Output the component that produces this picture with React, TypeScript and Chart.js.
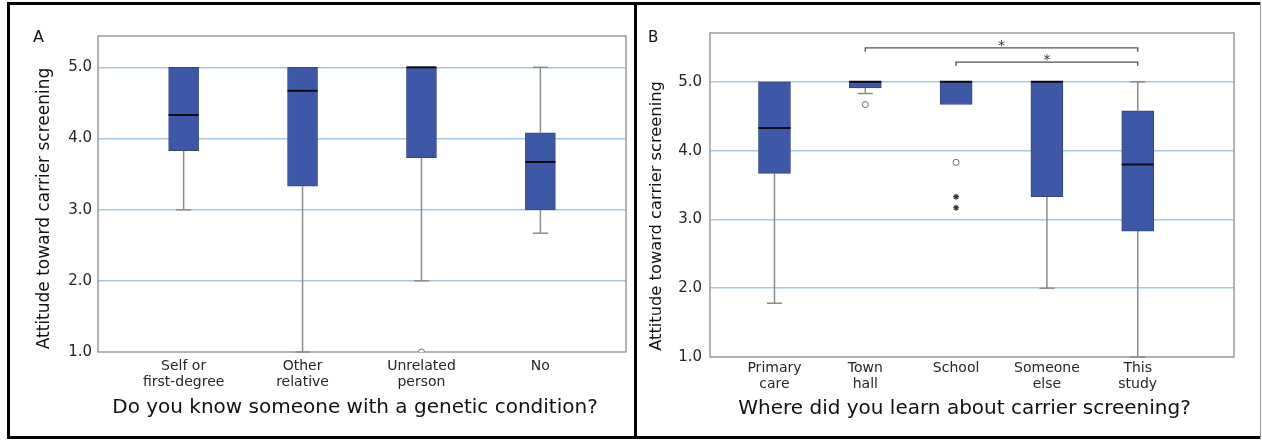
import React, { useEffect, useRef } from "react";
import { Chart, registerables } from "chart.js";

Chart.register(...registerables);

// ---------- Panel A data ----------
const categoriesA = [["Self or", "first-degree"], ["Other", "relative"], ["Unrelated", "person"], ["No"]];
const whiskerLowA = [3.0, 1.0, 2.0, 2.67];
const q1A = [3.83, 3.33, 3.73, 3.0];
const medianA = [4.33, 4.67, 5.0, 3.67];
const q3A = [5.0, 5.0, 5.0, 4.08];
const whiskerHighA = [5.0, 5.0, 5.0, 5.0];
const circleOutlierCatA = [3];
const circleOutlierValA = [1.0];
const starOutlierCatA: number[] = [];
const starOutlierValA: number[] = [];

// ---------- Panel B data ----------
const categoriesB = [["Primary", "care"], ["Town", "hall"], ["School"], ["Someone", "else"], ["This", "study"]];
const whiskerLowB = [1.78, 4.83, 4.67, 2.0, 1.0];
const q1B = [3.67, 4.91, 4.67, 3.33, 2.83];
const medianB = [4.33, 5.0, 5.0, 5.0, 3.8];
const q3B = [5.0, 5.0, 5.0, 5.0, 4.58];
const whiskerHighB = [5.0, 5.0, 5.0, 5.0, 5.0];
const circleOutlierCatB = [2, 3];
const circleOutlierValB = [4.67, 3.83];
const starOutlierCatB = [3, 3];
const starOutlierValB = [3.33, 3.17];
const bracketFromB = [2, 3];
const bracketToB = [5, 5];
const bracketLabelB = ["*", "*"];

// ---------- Shared axis ticks ----------
const yTickValues = [1, 2, 3, 4, 5];
const yTickLabels = ["1.0", "2.0", "3.0", "4.0", "5.0"];

const FONT = "'DejaVu Sans', 'Noto Sans', sans-serif";

const boxExtras = {
  id: "boxExtras",
  beforeDatasetsDraw(chart: any, _args: any, o: any) {
    const { ctx, chartArea: ca, scales } = chart;
    const x = scales.x;
    const y = scales.y;
    ctx.save();
    // plot frame
    ctx.strokeStyle = "#9a9a9a";
    ctx.lineWidth = 1.5;
    ctx.strokeRect(ca.left, ca.top, ca.right - ca.left, ca.bottom - ca.top);
    // whiskers
    ctx.strokeStyle = "#8c8c8c";
    ctx.lineWidth = 1.5;
    const half = o.capWidth / 2;
    o.q1.forEach((q1: number, i: number) => {
      const px = x.getPixelForValue(i + 1);
      const seg = (from: number, to: number) => {
        if (from === to) return;
        const a = y.getPixelForValue(from);
        const b = y.getPixelForValue(to);
        ctx.beginPath();
        ctx.moveTo(px, a);
        ctx.lineTo(px, b);
        ctx.moveTo(px - half, b);
        ctx.lineTo(px + half, b);
        ctx.stroke();
      };
      seg(q1, o.whiskerLow[i]);
      seg(o.q3[i], o.whiskerHigh[i]);
    });
    ctx.restore();
  },
  afterDatasetsDraw(chart: any, _args: any, o: any) {
    const { ctx, scales } = chart;
    const x = scales.x;
    const y = scales.y;
    ctx.save();
    // medians
    ctx.strokeStyle = "#0a0a14";
    ctx.lineWidth = 2;
    o.median.forEach((m: number, i: number) => {
      const px = x.getPixelForValue(i + 1);
      const py = y.getPixelForValue(m);
      ctx.beginPath();
      ctx.moveTo(px - o.boxWidth / 2, py);
      ctx.lineTo(px + o.boxWidth / 2, py);
      ctx.stroke();
    });
    // significance brackets
    if (o.bracketFrom) {
      o.bracketFrom.forEach((f: number, i: number) => {
        const x1 = x.getPixelForValue(f);
        const x2 = x.getPixelForValue(o.bracketTo[i]);
        const py = y.getPixelForValue(o.bracketLevels[i]);
        ctx.strokeStyle = "#505050";
        ctx.lineWidth = 1.3;
        ctx.beginPath();
        ctx.moveTo(x1, py + 4);
        ctx.lineTo(x1, py);
        ctx.lineTo(x2, py);
        ctx.lineTo(x2, py + 4);
        ctx.stroke();
        ctx.fillStyle = "#333";
        ctx.font = `14px ${FONT}`;
        ctx.textAlign = "center";
        ctx.textBaseline = "alphabetic";
        ctx.fillText(o.bracketLabel[i], (x1 + x2) / 2, py + 2);
      });
    }
    ctx.restore();
  },
  afterDraw(chart: any, _args: any, o: any) {
    const { ctx } = chart;
    ctx.save();
    ctx.fillStyle = "#111";
    // panel label
    ctx.font = `${o.panelSize}px ${FONT}`;
    ctx.textAlign = "left";
    ctx.textBaseline = "alphabetic";
    ctx.fillText(o.panel, o.panelX, o.panelY);
    // x title
    ctx.font = `${o.xTitleSize}px ${FONT}`;
    ctx.textAlign = "center";
    ctx.fillText(o.xTitle, o.xTitleX, o.xTitleY);
    // y title
    ctx.translate(o.yTitleX, o.yTitleY);
    ctx.rotate(-Math.PI / 2);
    ctx.font = `${o.yTitleSize}px ${FONT}`;
    ctx.textAlign = "center";
    ctx.textBaseline = "middle";
    ctx.fillText(o.yTitle, 0, 0);
    ctx.restore();
  },
};

function buildChart(canvas: HTMLCanvasElement, p: any) {
  const boxes = p.q1.map((v: number, i: number) => ({ x: i + 1, y: [v, p.q3[i]] }));
  const circles = p.circleCat.map((c: number, i: number) => ({ x: c, y: p.circleVal[i] }));
  const stars = p.starCat.map((c: number, i: number) => ({ x: c, y: p.starVal[i] }));
  return new Chart(canvas, {
    type: "bar",
    data: {
      datasets: [
        {
          type: "bar",
          data: boxes,
          backgroundColor: "#3e58a8",
          borderColor: "#34467e",
          borderWidth: 1,
          borderSkipped: false,
          barThickness: p.boxWidth,
        } as any,
        {
          type: "scatter",
          data: circles,
          pointStyle: "circle",
          pointRadius: 3,
          borderColor: "#6e6e6e",
          backgroundColor: "#ffffff",
          borderWidth: 1,
          clip: 0,
        } as any,
        {
          type: "scatter",
          data: stars,
          pointStyle: "star",
          pointRadius: 3,
          borderColor: "#333",
          backgroundColor: "#333",
          borderWidth: 1.2,
        } as any,
      ],
    },
    options: {
      animation: false,
      responsive: false,
      maintainAspectRatio: false,
      layout: { padding: p.padding },
      plugins: {
        legend: { display: false },
        tooltip: { enabled: false },
        boxExtras: {
          q1: p.q1,
          q3: p.q3,
          median: p.median,
          whiskerLow: p.whiskerLow,
          whiskerHigh: p.whiskerHigh,
          boxWidth: p.boxWidth,
          capWidth: 15,
          bracketFrom: p.bracketFrom,
          bracketTo: p.bracketTo,
          bracketLabel: p.bracketLabel,
          bracketLevels: p.bracketLevels,
          ...p.text,
        },
      } as any,
      scales: {
        x: {
          type: "linear",
          min: p.xMin,
          max: p.xMax,
          offset: false,
          grid: { display: false, offset: false, drawTicks: false },
          border: { display: false },
          afterBuildTicks: (s: any) => {
            s.ticks = p.categories.map((_: any, i: number) => ({ value: i + 1 }));
          },
          afterFit: (s: any) => {
            s.height = 60;
          },
          ticks: {
            autoSkip: false,
            maxRotation: 0,
            minRotation: 0,
            padding: p.xTickPadding,
            color: "#262626",
            font: { family: FONT, size: 14, lineHeight: 1.2 },
            callback: (v: any) => p.categories[Math.round(v) - 1] ?? "",
          },
        },
        y: {
          type: "linear",
          min: 1,
          max: p.yMax,
          grid: {
            drawTicks: false,
            lineWidth: 1.6,
            color: (c: any) => (c.tick && c.tick.value === 1 ? "rgba(0,0,0,0)" : "#a3c8df"),
          },
          border: { display: false },
          afterBuildTicks: (s: any) => {
            s.ticks = yTickValues.map((v) => ({ value: v }));
          },
          afterFit: (s: any) => {
            s.width = 68;
          },
          ticks: {
            padding: p.yTickPadding,
            color: "#262626",
            font: { family: FONT, size: 15 },
            callback: (v: any) => yTickLabels[yTickValues.indexOf(v)] ?? "",
          },
        },
      },
    } as any,
    plugins: [boxExtras as any],
  });
}

export default function App() {
  const refA = useRef<HTMLCanvasElement>(null);
  const refB = useRef<HTMLCanvasElement>(null);

  useEffect(() => {
    document.body.style.margin = "0";
    const a = buildChart(refA.current!, {
      categories: categoriesA,
      q1: q1A,
      q3: q3A,
      median: medianA,
      whiskerLow: whiskerLowA,
      whiskerHigh: whiskerHighA,
      circleCat: circleOutlierCatA,
      circleVal: circleOutlierValA,
      starCat: starOutlierCatA,
      starVal: starOutlierValA,
      boxWidth: 30,
      xMin: 0.28,
      xMax: 4.72,
      yMax: 5.44,
      padding: { left: 20, right: 8, top: 31, bottom: 24 },
      xTickPadding: 5.5,
      yTickPadding: 6,
      text: {
        panel: "A",
        panelX: 23,
        panelY: 37,
        panelSize: 16,
        xTitle: "Do you know someone with a genetic condition?",
        xTitleX: 345,
        xTitleY: 408,
        xTitleSize: 20,
        yTitle: "Attitude toward carrier screening",
        yTitleX: 35,
        yTitleY: 203.5,
        yTitleSize: 17,
      },
    });
    const b = buildChart(refB.current!, {
      categories: categoriesB,
      q1: q1B,
      q3: q3B,
      median: medianB,
      whiskerLow: whiskerLowB,
      whiskerHigh: whiskerHighB,
      circleCat: circleOutlierCatB,
      circleVal: circleOutlierValB,
      starCat: starOutlierCatB,
      starVal: starOutlierValB,
      bracketFrom: bracketFromB,
      bracketTo: bracketToB,
      bracketLabel: bracketLabelB,
      bracketLevels: [5.495, 5.287],
      boxWidth: 32,
      xMin: 0.29,
      xMax: 6.06,
      yMax: 5.71,
      padding: { left: 5, right: 26, top: 28, bottom: 19 },
      xTickPadding: 2.6,
      yTickPadding: 8,
      text: {
        panel: "B",
        panelX: 11,
        panelY: 37,
        panelSize: 15,
        xTitle: "Where did you learn about carrier screening?",
        xTitleX: 327.5,
        xTitleY: 409,
        xTitleSize: 20,
        yTitle: "Attitude toward carrier screening",
        yTitleX: 19.5,
        yTitleY: 211,
        yTitleSize: 16.3,
      },
    });
    return () => {
      a.destroy();
      b.destroy();
    };
  }, []);

  const bar = (l: number, t: number, w: number, h: number, c = "#000") => (
    <div style={{ position: "absolute", left: l, top: t, width: w, height: h, background: c }} />
  );

  return (
    <div style={{ position: "relative", width: 1262, height: 440, background: "#fff", overflow: "hidden" }}>
      <canvas ref={refA} width={624} height={431} style={{ position: "absolute", left: 10, top: 5 }} />
      <canvas ref={refB} width={623} height={431} style={{ position: "absolute", left: 637, top: 5 }} />
      {bar(7, 2, 1254, 3)}
      {bar(7, 2, 3, 437)}
      {bar(7, 436, 1254, 3)}
      {bar(634, 2, 3, 437)}
      {bar(1260, 2, 1, 437, "#999")}
    </div>
  );
}
